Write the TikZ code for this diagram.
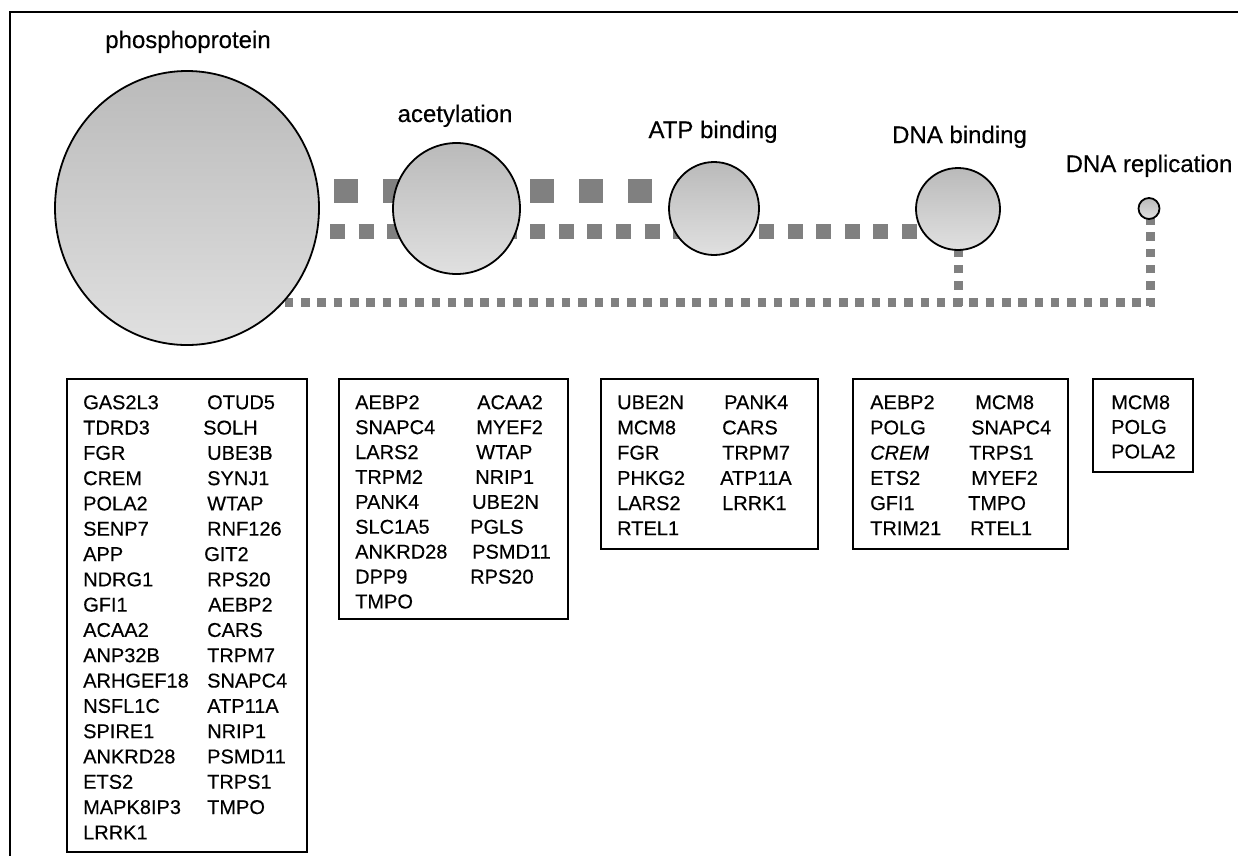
\documentclass[tikz,border=0pt]{standalone}
\usepackage{fontspec}
\setmainfont[FakeBold=0.3]{Liberation Sans}
\usetikzlibrary{shapes.geometric}
\definecolor{linkgray}{RGB}{128,128,128}
\definecolor{topgray}{RGB}{186,186,186}
\definecolor{botgray}{RGB}{224,224,224}
\begin{document}
\begin{tikzpicture}[x=1pt,y=-1pt,
  term/.style={ellipse, draw=black, line width=1.8pt, top color=topgray, bottom color=botgray, inner sep=0pt},
  lbl/.style={font=\fontsize{24}{28}\selectfont, inner sep=0pt, anchor=base},
  gene/.style={font=\fontsize{20}{24}\selectfont, inner sep=0pt, anchor=base west},
  gbox/.style={draw=black, line width=1.4pt, inner sep=0pt},
  heavylink/.style={draw=linkgray, line width=24pt, dash pattern=on 24pt off 25pt},
  midlink/.style={draw=linkgray, line width=15pt, dash pattern=on 15pt off 13.6pt},
  thinlink/.style={draw=linkgray, line width=9pt, dash pattern=on 8.5pt off 7.8pt}
]
\useasboundingbox (0,0) rectangle (1238,855);
\clip (0,0) rectangle (1238,855);
\fill[white] (0,0) rectangle (1238,855);

% term positions
\coordinate (cphos) at (187,208);
\coordinate (cacet) at (456.5,208.5);
\coordinate (catp) at (714,208.5);
\coordinate (cdnab) at (958,209);
\coordinate (cdnar) at (1149,208.5);

% connectors
\coordinate (h1) at (187,191);
\coordinate (h2) at (714,191);
\coordinate (m1) at (187,231.5);
\coordinate (m2) at (958,231.5);
\coordinate (t1) at (187,302.5);
\coordinate (t2) at (1154.5,302.5);
\coordinate (v1) at (958,306);
\coordinate (v2) at (1150.5,306);
\coordinate (v3) at (1150.5,208.5);
\draw[heavylink] (h1) -- (h2);
\draw[midlink] (m1) -- (m2);
\draw[thinlink] (t1) -- (t2);
\draw[thinlink] (v1) -- (cdnab);
\draw[thinlink] (v2) -- (v3);

% terms
\node[term, minimum width=264pt, minimum height=274pt] (phos) at (cphos) {};
\node[term, minimum width=127pt, minimum height=131pt] (acet) at (cacet) {};
\node[term, minimum width=90pt, minimum height=93pt] (atp) at (catp) {};
\node[term, minimum width=84pt, minimum height=82pt] (dnab) at (cdnab) {};
\node[term, minimum width=21pt, minimum height=21pt] (dnar) at (cdnar) {};

% labels
\node[lbl] (lphos) at (188,48) {phosphoprotein};
\node[lbl] (lacet) at (455,122) {acetylation};
\node[lbl] (latp) at (713,138) {ATP binding};
\node[lbl] (ldnab) at (959.5,143) {DNA binding};
\node[lbl] (ldnar) at (1149,172) {DNA replication};

% boxes
\node[gbox, minimum width=240pt, minimum height=473pt] (box1) at (187,615.5) {};
\node[gbox, minimum width=229pt, minimum height=240pt] (box2) at (453.5,499) {};
\node[gbox, minimum width=217pt, minimum height=170pt] (box3) at (709.5,464) {};
\node[gbox, minimum width=215pt, minimum height=170pt] (box4) at (960.5,464) {};
\node[gbox, minimum width=100pt, minimum height=93pt] (box5) at (1143,425.5) {};

% box 1
\foreach \t [count=\i] in {GAS2L3,TDRD3,FGR,CREM,POLA2,SENP7,APP,NDRG1,GFI1,ACAA2,ANP32B,ARHGEF18,NSFL1C,SPIRE1,ANKRD28,ETS2,MAPK8IP3,LRRK1}
  \node[gene] (ba\i) at (83,{409.2+25.3*(\i-1)}) {\t};
\foreach \t/\x [count=\i] in {OTUD5/207,SOLH/203,UBE3B/207,SYNJ1/207,WTAP/207,RNF126/207,GIT2/204,RPS20/207,AEBP2/208,CARS/207,TRPM7/207,SNAPC4/207,ATP11A/207,NRIP1/207,PSMD11/207,TRPS1/207,TMPO/207}
  \node[gene] (bb\i) at (\x,{409.2+25.3*(\i-1)}) {\t};

% box 2
\foreach \t [count=\i] in {AEBP2,SNAPC4,LARS2,TRPM2,PANK4,SLC1A5,ANKRD28,DPP9,TMPO}
  \node[gene] (ca\i) at (355,{409.2+24.9*(\i-1)}) {\t};
\foreach \t/\x [count=\i] in {ACAA2/477,MYEF2/476,WTAP/476,NRIP1/475,UBE2N/472,PGLS/470,PSMD11/472,RPS20/470}
  \node[gene] (cb\i) at (\x,{409.2+24.9*(\i-1)}) {\t};

% box 3
\foreach \t [count=\i] in {UBE2N,MCM8,FGR,PHKG2,LARS2,RTEL1}
  \node[gene] (da\i) at (617,{409.2+25.2*(\i-1)}) {\t};
\foreach \t/\x [count=\i] in {PANK4/724,CARS/722,TRPM7/722,ATP11A/720,LRRK1/722}
  \node[gene] (db\i) at (\x,{409.2+25.2*(\i-1)}) {\t};

% box 4
\foreach \t [count=\i] in {AEBP2,POLG,\textit{CREM},ETS2,GFI1,TRIM21}
  \node[gene] (ea\i) at (870,{409.2+25.2*(\i-1)}) {\t};
\foreach \t/\x [count=\i] in {MCM8/975,SNAPC4/971,TRPS1/969,MYEF2/971,TMPO/968,RTEL1/970}
  \node[gene] (eb\i) at (\x,{409.2+25.2*(\i-1)}) {\t};

% box 5
\foreach \t [count=\i] in {MCM8,POLG,POLA2}
  \node[gene] (fa\i) at (1111,{409.2+24.6*(\i-1)}) {\t};

% outer frame
\draw[line width=2pt] (10,900) -- (10,12) -- (1300,12);
\end{tikzpicture}
\end{document}
